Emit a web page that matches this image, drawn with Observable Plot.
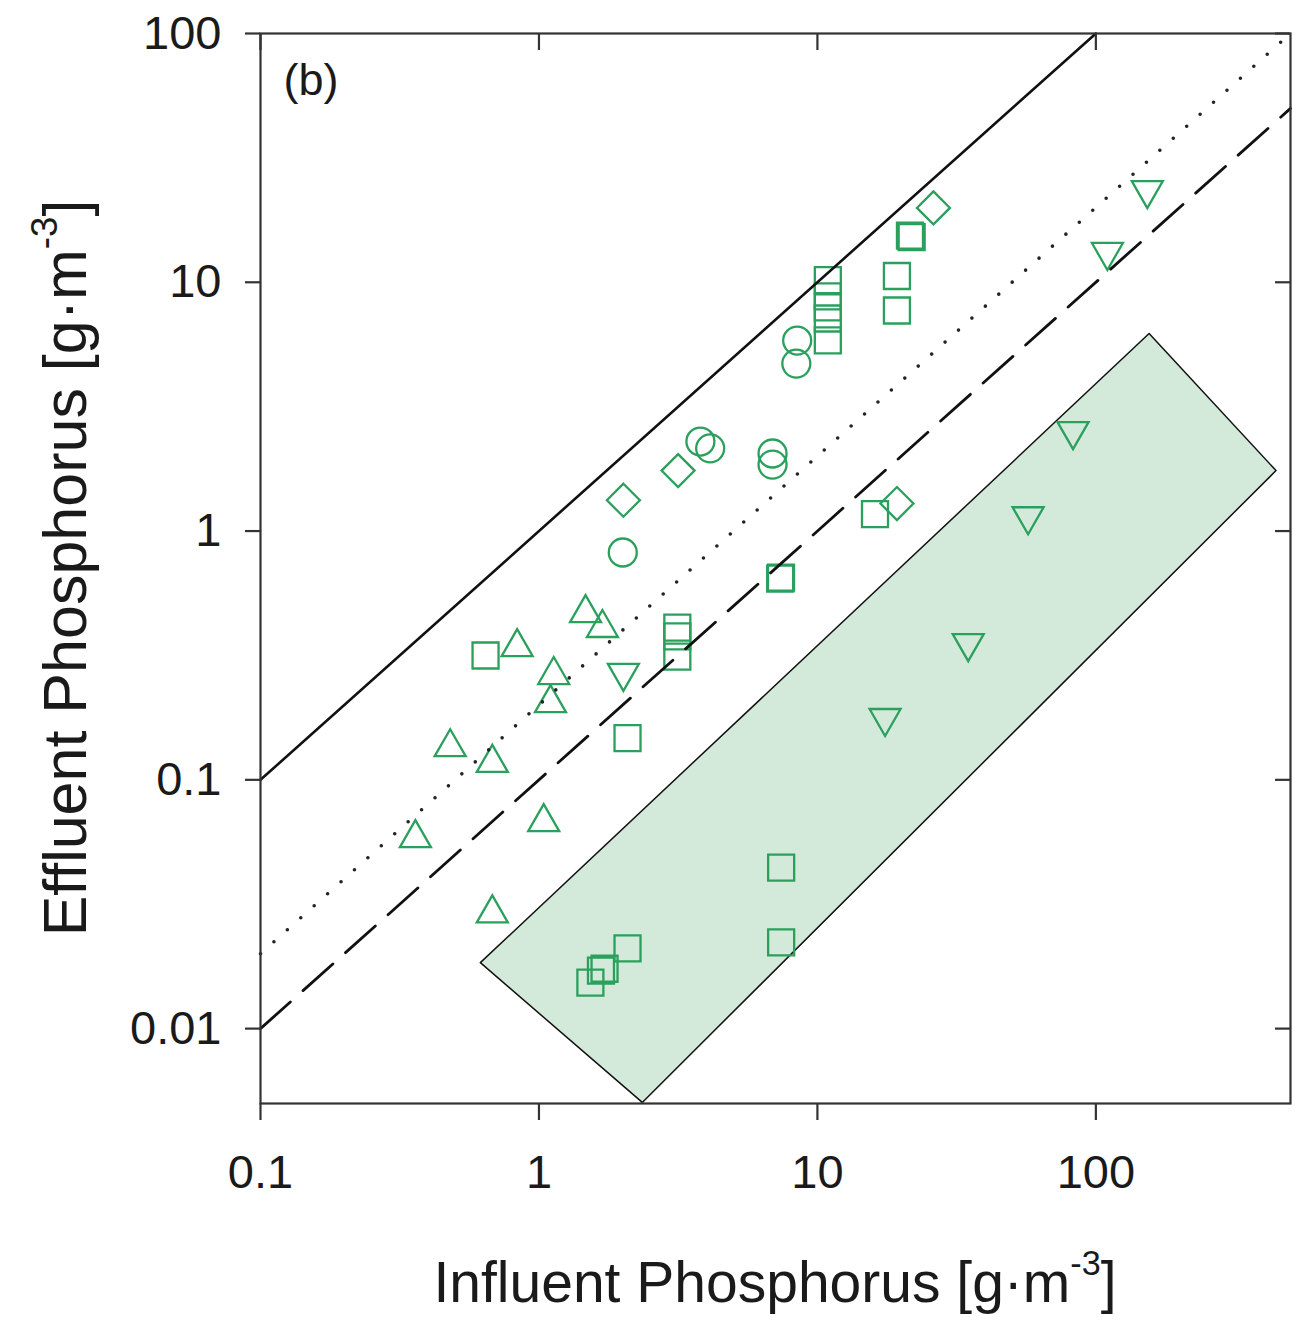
<!DOCTYPE html>
<html><head><meta charset="utf-8">
<script src="https://cdn.jsdelivr.net/npm/d3@7"></script>
<script src="https://cdn.jsdelivr.net/npm/@observablehq/plot@0.6"></script>
<style>
body{margin:0;background:#fff;}
#chart{width:1299px;height:1322px;}
</style></head><body><div id="chart"></div>
<script>
// ---- Data ----
const squareX = [0.643, 2.08, 3.14, 3.14, 3.14, 7.35, 7.4, 10.9, 10.9, 10.9, 10.9, 10.9, 16.1, 19.3, 19.3, 21.5, 21.8, 1.53, 1.67, 1.72, 2.08, 7.41, 7.41];
const squareY = [0.316, 0.147, 0.409, 0.377, 0.313, 0.644, 0.65, 10.2, 8.77, 7.93, 7.15, 5.84, 1.17, 10.6, 7.7, 15.4, 15.2, 0.0153, 0.0171, 0.0174, 0.0210, 0.0444, 0.0222];
const circleX = [2.0, 3.8, 4.12, 6.9, 6.9, 8.46, 8.4];
const circleY = [0.82, 2.29, 2.15, 2.05, 1.85, 5.83, 4.71];
const triUpX = [0.36, 0.48, 0.68, 0.68, 0.835, 1.04, 1.10, 1.13, 1.47, 1.69];
const triUpY = [0.0608, 0.141, 0.122, 0.0303, 0.356, 0.0705, 0.212, 0.275, 0.488, 0.425];
const triDownX = [2.01, 17.5, 34.8, 57.1, 82.8, 110, 153];
const triDownY = [0.258, 0.170, 0.34, 1.10, 2.42, 12.7, 22.5];
const diamondX = [2.01, 3.16, 19.3, 26.1];
const diamondY = [1.33, 1.75, 1.29, 19.9];

// shaded region corners (influent, effluent)
const regionX = [0.616, 2.35, 443.6, 155.3, 0.616];
const regionY = [0.01841, 0.00505, 1.75, 6.22, 0.01841];

// reference lines: effluent = ratio * influent
const refRatio = [1, 0.2, 0.1];
const refXEnd = [100, 500, 500];
const refXStart = 0.1;

const xTicks = [0.1, 1, 10, 100];
const xTickLabels = ["0.1", "1", "10", "100"];
const yTicks = [0.01, 0.1, 1, 10, 100];
const yTickLabels = ["0.01", "0.1", "1", "10", "100"];

const panelLabel = "(b)";
const xTitle = ["Influent Phosphorus [g·m", "-3", "]"];
const yTitle = ["Effluent Phosphorus [g·m", "-3", "]"];

// ---- Build tables ----
const zip = (xs, ys) => xs.map((x, i) => ({x, y: ys[i]}));
const squares = zip(squareX, squareY);
const circles = zip(circleX, circleY);
const triUps = zip(triUpX, triUpY);
const triDowns = zip(triDownX, triDownY);
const diamonds = zip(diamondX, diamondY);
const region = zip(regionX, regionY);
const refLines = refRatio.map((r, k) => [
  {x: refXStart, y: refXStart * r},
  {x: refXEnd[k], y: refXEnd[k] * r}
]);

// custom outline symbols (fixed pixel geometry)
const symSquare = {draw(c){ const h = 13; c.moveTo(-h,-h); c.lineTo(h,-h); c.lineTo(h,h); c.lineTo(-h,h); c.closePath(); }};
const symCircle = {draw(c){ const r = 14; c.moveTo(r,0); c.arc(0,0,r,0,2*Math.PI); c.closePath(); }};
const symTriUp = {draw(c){ c.moveTo(0,-13.5); c.lineTo(15.5,13.5); c.lineTo(-15.5,13.5); c.closePath(); }};
const symTriDown = {draw(c){ c.moveTo(0,13.5); c.lineTo(15.5,-13.5); c.lineTo(-15.5,-13.5); c.closePath(); }};
const symDiamond = {draw(c){ const h = 16.5; c.moveTo(0,-h); c.lineTo(h,0); c.lineTo(0,h); c.lineTo(-h,0); c.closePath(); }};

const green = "#2aa05c";
const dotOpts = (sym) => ({x: "x", y: "y", symbol: sym, r: 10, fill: "none", stroke: green, strokeWidth: 2.3});

const W = 1299, H = 1322;
const mL = 260, mR = 9, mT = 33, mB = 219;
const pw = W - mL - mR, ph = H - mT - mB;

const plot = Plot.plot({
  width: W, height: H,
  marginLeft: mL, marginRight: mR, marginTop: mT, marginBottom: mB,
  style: {fontFamily: "'Liberation Sans', Arial, sans-serif", color: "#1a1a1a", background: "#fff"},
  x: {type: "log", domain: [0.1, 500]},
  y: {type: "log", domain: [0.005, 100]},
  marks: [
    Plot.line(region, {x: "x", y: "y", fill: "#d3eadb", stroke: "#111", strokeWidth: 1.5, curve: "linear"}),
    Plot.dot(squares, dotOpts(symSquare)),
    Plot.dot(circles, dotOpts(symCircle)),
    Plot.dot(triUps, dotOpts(symTriUp)),
    Plot.dot(triDowns, dotOpts(symTriDown)),
    Plot.dot(diamonds, dotOpts(symDiamond)),
    Plot.line(refLines[0], {x: "x", y: "y", stroke: "#111", strokeWidth: 2.6}),
    Plot.line(refLines[1], {x: "x", y: "y", stroke: "#222", strokeWidth: 3.6, strokeDasharray: "0 18", strokeLinecap: "round"}),
    Plot.line(refLines[2], {x: "x", y: "y", stroke: "#111", strokeWidth: 2.8, strokeDasharray: "40 17"}),
    Plot.frame({stroke: "#333", strokeWidth: 2.2}),
    Plot.axisX({anchor: "bottom", ticks: xTicks, tickFormat: d => xTickLabels[xTicks.indexOf(d)], tickSize: 17, tickPadding: 34, fontSize: 47, strokeWidth: 2.2, stroke: "#333", label: null}),
    Plot.axisY({anchor: "left", ticks: yTicks, tickFormat: d => yTickLabels[yTicks.indexOf(d)], tickSize: 15, tickPadding: 24, fontSize: 47, strokeWidth: 2.2, stroke: "#333", label: null}),
    Plot.tickX(xTicks, {x: d => d, insetBottom: ph - 17, stroke: "#333", strokeWidth: 2.2}),
    Plot.tickY(yTicks, {y: d => d, insetLeft: pw - 15, stroke: "#333", strokeWidth: 2.2}),
    Plot.text([panelLabel], {frameAnchor: "top-left", dx: 23, dy: 30, text: d => d, fontSize: 45, textAnchor: "start", fill: "#1a1a1a"})
  ]
});

document.getElementById("chart").appendChild(plot);

// axis titles with superscripts
const svg = d3.select(plot);
function title(parts, x, y, rotate, size) {
  const t = svg.append("text")
    .attr("transform", `translate(${x},${y})` + (rotate ? " rotate(-90)" : ""))
    .attr("text-anchor", "middle")
    .attr("font-size", size)
    .attr("fill", "#1a1a1a")
    .attr("font-family", "'Liberation Sans', Arial, sans-serif");
  t.append("tspan").text(parts[0]);
  t.append("tspan").attr("font-size", size * 0.6).attr("dy", -size * 0.47).text(parts[1]);
  t.append("tspan").attr("dy", size * 0.47).text(parts[2]);
}
title(xTitle, mL + pw / 2, 1302, false, 57);
title(yTitle, 86, mT + ph / 2, true, 61);
</script>
</body></html>
